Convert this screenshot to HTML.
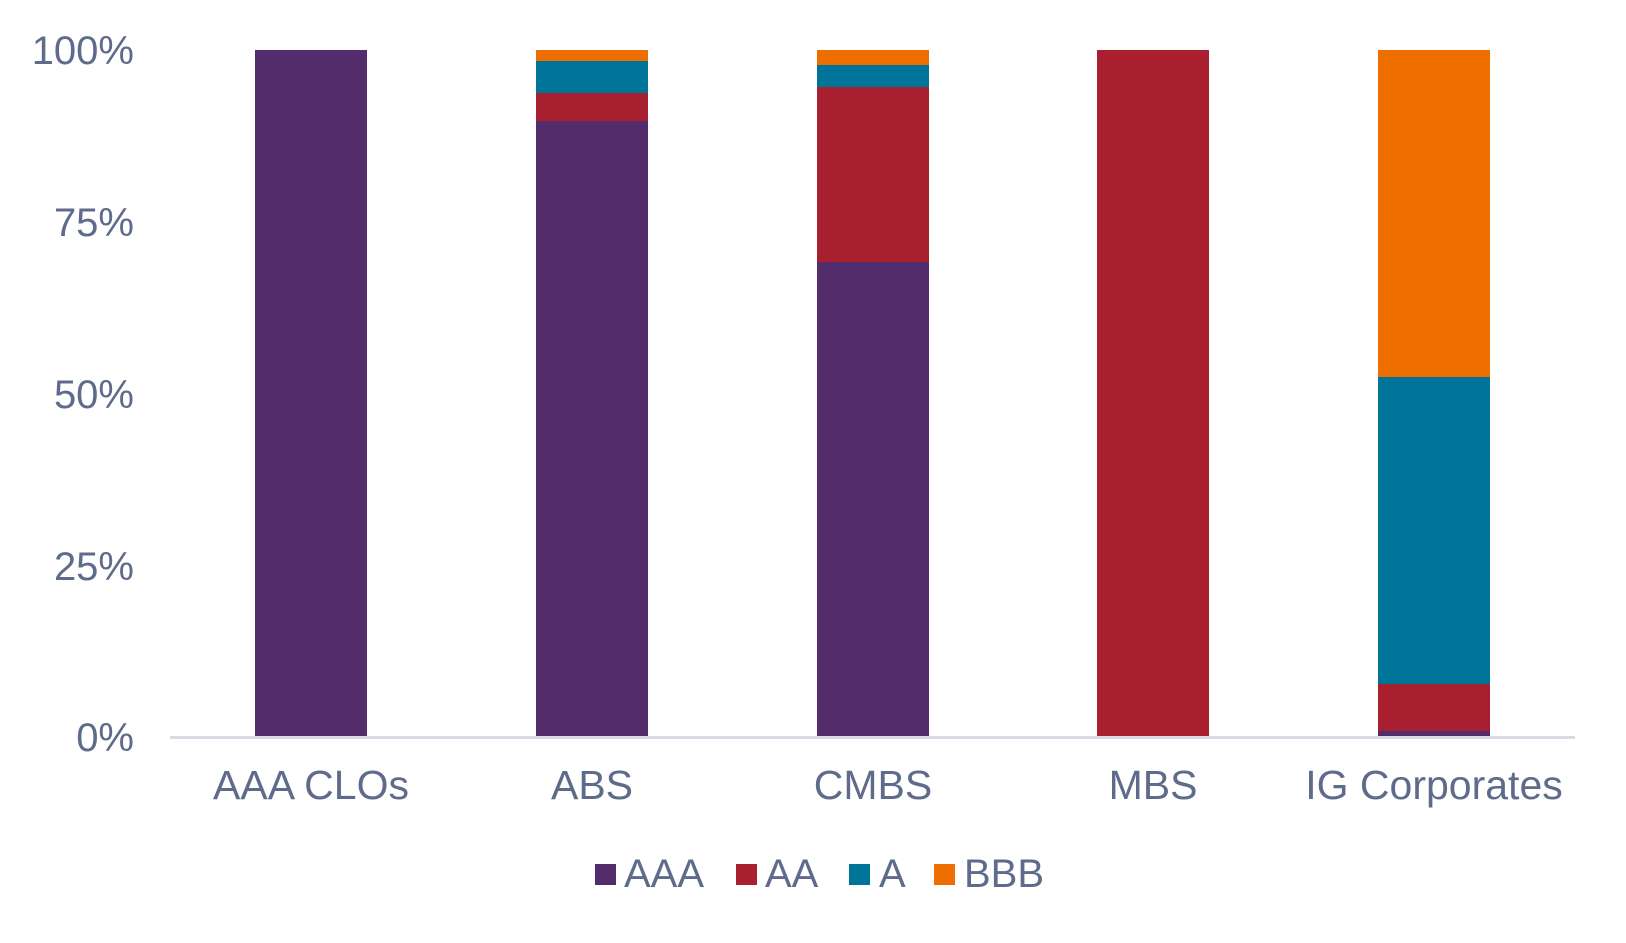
<!DOCTYPE html>
<html><head><meta charset="utf-8"><style>
html,body{margin:0;padding:0;background:#fff;}
svg text{font-family:"Liberation Sans",Arial,sans-serif;fill:#5f6b8b;}
</style></head><body>
<svg width="1626" height="938" viewBox="0 0 1626 938" xmlns="http://www.w3.org/2000/svg">
<g font-size="40" text-anchor="end">
<text x="134" y="64">100%</text>
<text x="134" y="236">75%</text>
<text x="134" y="408">50%</text>
<text x="134" y="580">25%</text>
<text x="134" y="751">0%</text>
</g>
<rect x="255" y="50" width="112" height="687" fill="#532d6b"/>
<rect x="536" y="121" width="112" height="616" fill="#532d6b"/>
<rect x="536" y="93" width="112" height="28" fill="#a81f2f"/>
<rect x="536" y="61" width="112" height="32" fill="#007398"/>
<rect x="536" y="50" width="112" height="11" fill="#ee6f00"/>
<rect x="817" y="262" width="112" height="475" fill="#532d6b"/>
<rect x="817" y="87" width="112" height="175" fill="#a81f2f"/>
<rect x="817" y="65" width="112" height="22" fill="#007398"/>
<rect x="817" y="50" width="112" height="15" fill="#ee6f00"/>
<rect x="1097" y="50" width="112" height="687" fill="#a81f2f"/>
<rect x="1378" y="731" width="112" height="6" fill="#532d6b"/>
<rect x="1378" y="684" width="112" height="47" fill="#a81f2f"/>
<rect x="1378" y="377" width="112" height="307" fill="#007398"/>
<rect x="1378" y="50" width="112" height="327" fill="#ee6f00"/>
<rect x="170" y="736" width="1405" height="3" fill="#d9d9e3"/>
<g font-size="41" text-anchor="middle">
<text x="311" y="799">AAA CLOs</text>
<text x="592" y="799">ABS</text>
<text x="873" y="799">CMBS</text>
<text x="1153" y="799">MBS</text>
<text x="1434" y="799">IG Corporates</text>
</g>
<rect x="595" y="864" width="21" height="21" fill="#532d6b"/>
<rect x="736" y="864" width="21" height="21" fill="#a81f2f"/>
<rect x="849" y="864" width="21" height="21" fill="#007398"/>
<rect x="934" y="864" width="21" height="21" fill="#ee6f00"/>
<g font-size="40">
<text x="624" y="887">AAA</text>
<text x="765" y="887">AA</text>
<text x="879" y="887">A</text>
<text x="964" y="887">BBB</text>
</g>
</svg>
</body></html>
